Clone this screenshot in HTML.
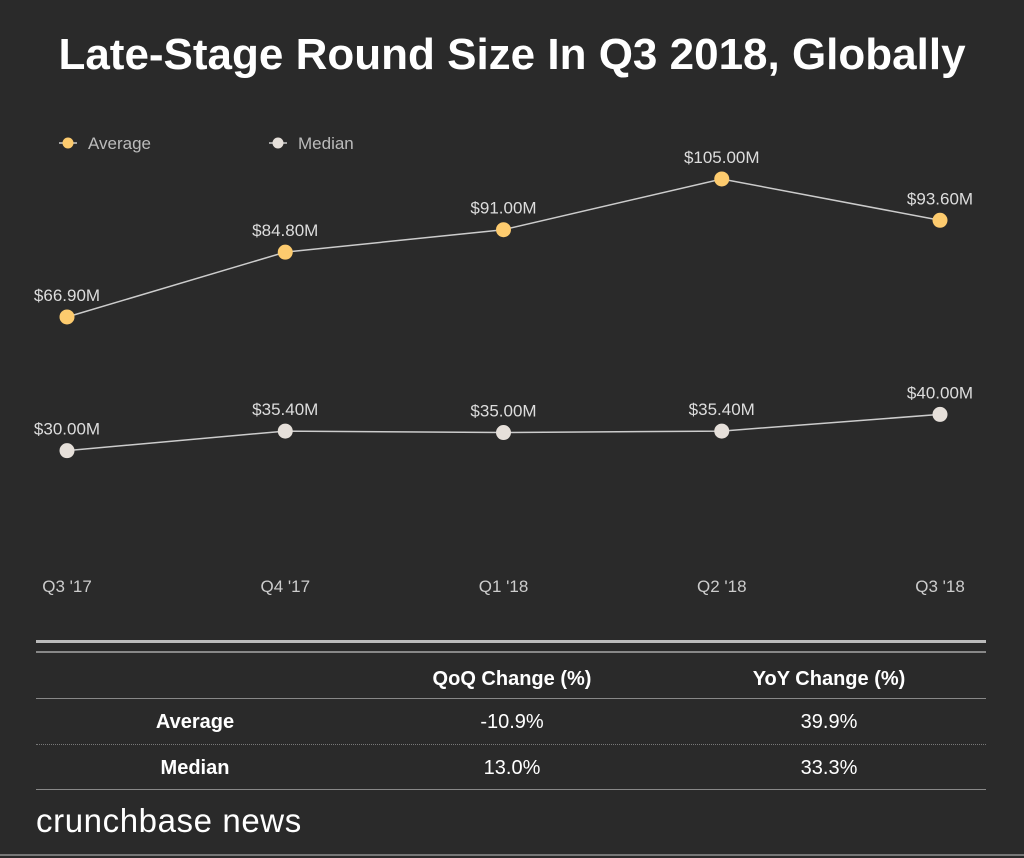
<!DOCTYPE html>
<html><head><meta charset="utf-8"><style>
body{margin:0;background:#2a2a2a;width:1024px;height:858px;overflow:hidden;font-family:"Liberation Sans",sans-serif;position:relative}
.t{position:absolute;color:#fff}
</style></head><body>
<div class="t" style="left:0;width:1024px;top:30px;text-align:center;font-size:44px;font-weight:bold">Late-Stage Round Size In Q3 2018, Globally</div>
<svg id="c" width="1024" height="858" style="position:absolute;left:0;top:0"></svg>
<div style="position:absolute;left:36px;top:640px;width:950px;height:3px;background:#bbb"></div>
<div style="position:absolute;left:36px;top:651px;width:950px;height:2px;background:#888"></div>
<div class="t" style="left:412px;width:200px;top:668px;text-align:center;font-size:20px;font-weight:bold">QoQ Change (%)</div>
<div class="t" style="left:729px;width:200px;top:668px;text-align:center;font-size:20px;font-weight:bold">YoY Change (%)</div>
<div style="position:absolute;left:36px;top:698px;width:950px;height:1px;background:#888"></div>
<div class="t" style="left:95px;width:200px;top:711px;text-align:center;font-size:20px;font-weight:bold">Average</div>
<div class="t" style="left:412px;width:200px;top:711px;text-align:center;font-size:20px">-10.9%</div>
<div class="t" style="left:729px;width:200px;top:711px;text-align:center;font-size:20px">39.9%</div>
<div style="position:absolute;left:36px;top:744px;width:950px;height:0;border-top:1px dotted #777"></div>
<div class="t" style="left:95px;width:200px;top:757px;text-align:center;font-size:20px;font-weight:bold">Median</div>
<div class="t" style="left:412px;width:200px;top:757px;text-align:center;font-size:20px">13.0%</div>
<div class="t" style="left:729px;width:200px;top:757px;text-align:center;font-size:20px">33.3%</div>
<div style="position:absolute;left:36px;top:789px;width:950px;height:1px;background:#888"></div>
<div class="t" style="left:36px;top:802px;font-size:33px;letter-spacing:0.6px">crunchbase news</div>
<div style="position:absolute;left:0;top:854px;width:1024px;height:2px;background:#777"></div>
<script>
const categories=["Q3 '17","Q4 '17","Q1 '18","Q2 '18","Q3 '18"];
const averageValues=[66.9,84.8,91.0,105.0,93.6];
const medianValues=[30.0,35.4,35.0,35.4,40.0];
const seriesNames=["Average","Median"];
const NS="http://www.w3.org/2000/svg";
const svg=document.getElementById('c');
const x=i=>67+i*218.25;
const y=v=>559.3-v*3.622;
function mk(t,a){const e=document.createElementNS(NS,t);for(const k in a)e.setAttribute(k,a[k]);svg.appendChild(e);return e;}
function series(vals,color,name){
  const line=mk('polyline',{points:vals.map((v,i)=>x(i)+','+y(v)).join(' '),fill:'none',stroke:'#ccc','stroke-width':1.5});
  
  
  vals.forEach((v,i)=>{
    const c=mk('circle',{cx:x(i),cy:y(v),r:7.5,fill:color});
    
    
    const t=mk('text',{x:x(i),y:y(v)-16,'text-anchor':'middle',fill:'#ddd','font-size':17,'font-family':'Liberation Sans, sans-serif'});
    t.textContent='$'+v.toFixed(2)+'M';
    
    
  });
}
series(averageValues,'#fdcb6e','average');
series(medianValues,'#e6e0da','median');
categories.forEach((c,i)=>{
  const t=mk('text',{x:x(i),y:592,'text-anchor':'middle',fill:'#ccc','font-size':17,'font-family':'Liberation Sans, sans-serif'});
  t.textContent=c;
  
  
});
const lx=[68,278],colors=['#fdcb6e','#e6e0da'];
seriesNames.forEach((n,i)=>{
  const l=mk('line',{x1:lx[i]-9,x2:lx[i]+9,y1:143,y2:143,stroke:'#ccc','stroke-width':1.5});
  
  
  const c=mk('circle',{cx:lx[i],cy:143,r:5.5,fill:colors[i]});
  
  
  const t=mk('text',{x:lx[i]+20,y:149,fill:'#bbb','font-size':17,'font-family':'Liberation Sans, sans-serif'});
  t.textContent=n;
  
  
});
</script>
</body></html>
